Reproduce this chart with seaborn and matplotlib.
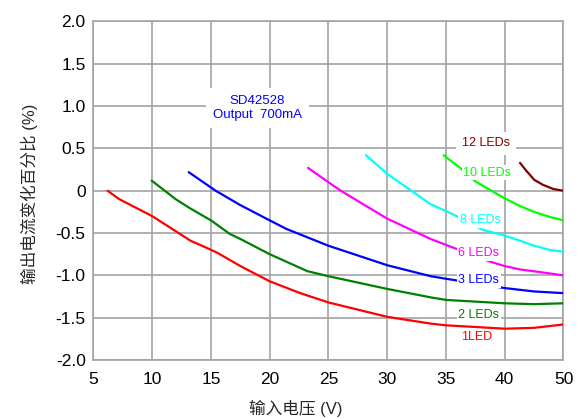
import numpy as np
import pandas as pd
import matplotlib
matplotlib.use("Agg")
import matplotlib.pyplot as plt
import seaborn as sns

# Line regulation curves: output current change (%) vs input voltage (V)
v_1led = [6.2, 7.2, 10, 12.25, 13.25, 14.4, 15.5, 17.5, 20, 22.6, 25, 30, 33.7, 35, 40, 45, 50]
p_1led = [0.0, -0.10, -0.30, -0.50, -0.59, -0.66, -0.73, -0.89, -1.07, -1.21, -1.32, -1.49, -1.57, -1.59, -1.63, -1.62, -1.58]

v_2led = [9.95, 12.0, 13.25, 15, 16.6, 17.5, 20, 23.2, 25, 30, 33.7, 35, 40, 45, 50]
p_2led = [0.12, -0.10, -0.21, -0.35, -0.51, -0.57, -0.75, -0.95, -1.01, -1.16, -1.26, -1.29, -1.33, -1.34, -1.33]

v_3led = [13.1, 15.4, 17.5, 20, 21.4, 25, 30, 33.7, 35, 40, 45, 50]
p_3led = [0.22, 0.0, -0.17, -0.35, -0.45, -0.65, -0.88, -1.01, -1.04, -1.15, -1.19, -1.21]

v_6led = [23.26, 25, 26.05, 30, 33.7, 35, 38.8, 40, 42.6, 45.9, 50]
p_6led = [0.27, 0.10, 0.0, -0.33, -0.57, -0.64, -0.84, -0.89, -0.93, -0.96, -1.0]

v_8led = [28.18, 30, 33.7, 35, 36.05, 38.1, 40, 42.6, 45, 47.7, 50]
p_8led = [0.42, 0.20, -0.16, -0.24, -0.31, -0.46, -0.53, -0.59, -0.65, -0.70, -0.72]

v_10led = [34.8, 36.2, 37.5, 40, 42.6, 45, 47.7, 50]
p_10led = [0.42, 0.27, 0.11, -0.09, -0.18, -0.25, -0.31, -0.35]

v_12led = [42.6, 43.5, 45.0, 46.5, 48.3, 50]
p_12led = [0.33, 0.25, 0.13, 0.07, 0.02, 0.0]

series_names = ["1LED", "2 LEDs", "3 LEDs", "6 LEDs", "8 LEDs", "10 LEDs", "12 LEDs"]
series_v = [v_1led, v_2led, v_3led, v_6led, v_8led, v_10led, v_12led]
series_p = [p_1led, p_2led, p_3led, p_6led, p_8led, p_10led, p_12led]
series_colors = ["#ff0000", "#008000", "#0000ff", "#ff00ff", "#00ffff", "#00ff00", "#800000"]

# label anchor points (V, %)
label_v = [37.6, 37.8, 37.8, 37.8, 37.9, 38.5, 38.4]
label_p = [-1.73, -1.47, -1.06, -0.74, -0.35, 0.21, 0.56]

x_ticks = [5, 10, 15, 20, 25, 30, 35, 40, 50]
y_ticks = [-2.0, -1.5, -1.0, -0.5, 0, 0.5, 1.0, 1.5, 2.0]
y_tick_labels = ["-2.0", "-1.5", "-1.0", "-0.5", "0", "0.5", "1.0", "1.5", "2.0"]

frames = []
for name, v, p in zip(series_names, series_v, series_p):
    frames.append(pd.DataFrame({"V": v, "pct": p, "series": name}))
df = pd.concat(frames, ignore_index=True)

sns.set_style("white")
plt.rcParams["font.family"] = ["Liberation Sans", "Noto Sans CJK SC"]

fig = plt.figure(figsize=(5.77, 4.19), dpi=100)
ax = fig.add_axes([0.162, 0.1408, 0.8146, 0.8079])


# axis spacing: equal steps for 5..40 in 5 V, then one step for 40..50
def fwd(v):
    v = np.asarray(v, dtype=float)
    return np.where(v <= 40, (v - 5) / 5.0, 7 + (v - 40) / 10.0)


def inv(p):
    p = np.asarray(p, dtype=float)
    return np.where(p <= 7, 5 + 5.0 * p, 40 + 10.0 * (p - 7))


ax.set_xscale("function", functions=(fwd, inv))

sns.lineplot(data=df, x="V", y="pct", hue="series", hue_order=series_names,
             palette=dict(zip(series_names, series_colors)), estimator=None,
             sort=False, legend=False, linewidth=1.6, ax=ax, zorder=3)

ax.set_xlim(5, 50)
ax.set_ylim(-2.0, 2.0)
ax.set_xticks(x_ticks)
ax.set_xticklabels([str(t) for t in x_ticks])
ax.set_yticks(y_ticks)
ax.set_yticklabels(y_tick_labels)
ax.minorticks_off()

grid_c = "#a3a3a3"
ax.grid(True, color=grid_c, linewidth=1.2)
ax.set_axisbelow(True)
for s in ax.spines.values():
    s.set_color(grid_c)
    s.set_linewidth(1.2)
ax.tick_params(axis="both", length=0, labelsize=12.5, labelcolor="black")
ax.tick_params(axis="x", pad=8.5)
ax.tick_params(axis="y", pad=5.6)

ax.set_xlabel("输入电压 (V)", fontsize=12)
ax.xaxis.set_label_coords(0.431, -0.118)
ax.set_ylabel("输出电流变化百分比 (%)", fontsize=12)
ax.yaxis.set_label_coords(-0.118, 0.49)

# curve labels on white patches
for name, lv, lp, c in zip(series_names, label_v, label_p, series_colors):
    pad = 0.45 if name == "12 LEDs" else 0.12
    ax.text(lv, lp, name, color=c, fontsize=9, ha="center", va="center", zorder=4,
            bbox=dict(facecolor="white", edgecolor="none", pad=pad * 9))

ax.text(18.95, 0.98, "SD42528\nOutput  700mA", color="#0000ff", fontsize=9.5,
        ha="center", va="center", linespacing=1.25, zorder=4,
        bbox=dict(facecolor="white", edgecolor="none", pad=5))

fig.savefig("out.png", dpi=100)
